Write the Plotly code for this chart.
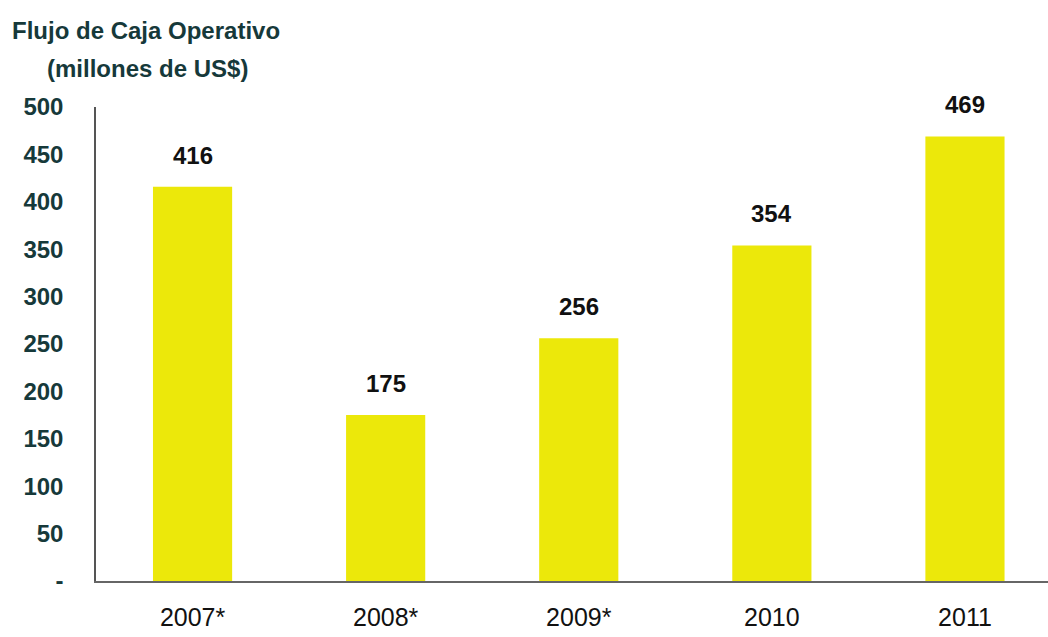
import plotly.graph_objects as go

# Operating cash flow by year (millions of US$)
years = ["2007*", "2008*", "2009*", "2010", "2011"]
cash_flow = [416, 175, 256, 354, 469]

y_tick_values = [0, 50, 100, 150, 200, 250, 300, 350, 400, 450, 500]
y_tick_labels = ["-", "50", "100", "150", "200", "250", "300", "350", "400", "450", "500"]

BAR_COLOR = "#ECE80A"
AXIS_TEXT = "#16393A"
FONT = "Liberation Sans, Arial, sans-serif"

fig = go.Figure()
fig.add_trace(go.Bar(
    x=years,
    y=cash_flow,
    marker=dict(color=BAR_COLOR, line=dict(width=0)),
    width=0.41,
    hoverinfo="x+y",
))

# value labels above each bar (positioned by category index so numeric-looking
# year names are not read as numbers)
for i, v in enumerate(cash_flow):
    fig.add_annotation(
        x=i, y=v, text=f"<b>{v}</b>", showarrow=False,
        yanchor="bottom", yshift=16,
        font=dict(family=FONT, size=24, color="#111111"),
    )

# two-line heading in the top-left corner
fig.add_annotation(
    xref="paper", yref="paper", x=-0.09, y=1.0, yshift=77,
    xanchor="left", yanchor="middle", showarrow=False,
    text="<b>Flujo de Caja Operativo</b>",
    font=dict(family=FONT, size=24, color=AXIS_TEXT),
)
fig.add_annotation(
    xref="paper", yref="paper", x=-0.054, y=1.0, yshift=39,
    xanchor="left", yanchor="middle", showarrow=False,
    text="<b>(millones de US$)</b>",
    font=dict(family=FONT, size=24, color=AXIS_TEXT),
)

fig.update_layout(
    width=1048, height=637,
    margin=dict(l=96, r=0, t=107, b=56),
    paper_bgcolor="white", plot_bgcolor="white",
    showlegend=False,
    xaxis=dict(
        type="category",
        range=[-0.5, 4.43],
        showline=True, linecolor="#666666", linewidth=2,
        showgrid=False, ticks="",
        tickfont=dict(family=FONT, size=25, color="#111111"),
        ticklabelstandoff=13,
    ),
    yaxis=dict(
        range=[0, 500],
        tickvals=y_tick_values, ticktext=y_tick_labels,
        showline=True, linecolor="#555555", linewidth=1.5,
        showgrid=False, zeroline=False, ticks="",
        tickfont=dict(family=FONT, size=24, color=AXIS_TEXT, weight="bold"),
        ticklabelstandoff=26,
    ),
)

fig.write_html("out.html")
